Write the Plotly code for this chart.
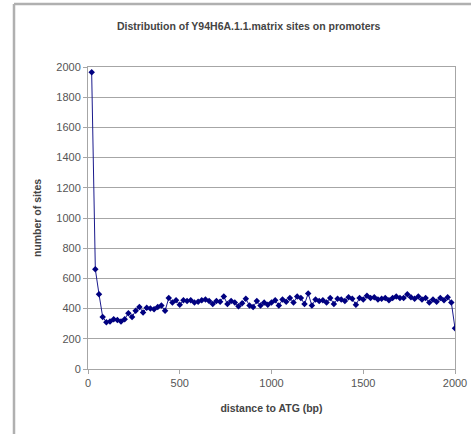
import plotly.graph_objects as go

distance_bp = list(range(20, 2001, 20))
site_counts = [
    1965, 660, 495, 345, 310, 315, 330, 325, 315, 330,
    370, 345, 385, 410, 375, 405, 400, 395, 410, 420,
    385, 470, 440, 455, 425, 455, 450, 455, 440, 445,
    455, 460, 450, 430, 450, 445, 480, 430, 450, 440,
    415, 435, 465, 420, 410, 450, 420, 440, 425, 440,
    455, 420, 460, 445, 470, 440, 480, 470, 430, 500,
    420, 460, 450, 455, 440, 470, 430, 465, 460, 450,
    475, 465, 425, 470, 460, 485, 470, 475, 460, 465,
    470, 455, 470, 480, 470, 470, 495, 475, 465, 480,
    460, 470, 440, 460, 445, 470, 455, 475, 440, 270,
]
x_ticks = [0, 500, 1000, 1500, 2000]
y_ticks = [0, 200, 400, 600, 800, 1000, 1200, 1400, 1600, 1800, 2000]

title_text = "Distribution of Y94H6A.1.1.matrix sites on promoters"
x_title = "distance to ATG (bp)"
y_title = "number of sites"

fig = go.Figure()
fig.add_trace(go.Scatter(
    x=distance_bp, y=site_counts, mode="lines+markers",
    line=dict(color="#1a1a8c", width=1),
    marker=dict(symbol="diamond", size=5, color="#000080"),
    showlegend=False,
))

grid = "#a6a6a6"
font = "Liberation Sans, Arial, sans-serif"
fig.update_layout(
    width=471, height=434,
    margin=dict(l=88, r=16, t=67, b=65, autoexpand=False),
    paper_bgcolor="white", plot_bgcolor="white",
    font=dict(family=font, color="#333333", size=10),
    title=dict(text="<b>" + title_text + "</b>", x=0.528, xanchor="center",
               y=1 - 26 / 434, yanchor="middle",
               font=dict(size=10.5, color="#444444", family=font)),
    xaxis=dict(range=[0, 2000], tickvals=x_ticks, showgrid=False,
               automargin=False,
               showline=True, linecolor=grid, linewidth=1, mirror=True,
               ticks="outside", ticklen=4, tickcolor=grid,
               tickfont=dict(size=11, color="#555555"),
               title=dict(text="<b>" + x_title + "</b>", standoff=16,
                          font=dict(size=10.5, color="#444444")),
               zeroline=False),
    yaxis=dict(range=[0, 2000], tickvals=y_ticks, showgrid=True,
               automargin=False,
               gridcolor=grid, gridwidth=1,
               showline=True, linecolor=grid, linewidth=1, mirror=True,
               ticks="outside", ticklen=4, tickcolor=grid,
               tickfont=dict(size=11, color="#555555"),
               title=dict(text="<b>" + y_title + "</b>", standoff=12,
                          font=dict(size=10.5, color="#444444")),
               zeroline=False),
)
# outer chart frame (left and top edges)
fx = (14 - 88) / 367
fy = (434 - 4 - 65) / 302
fig.add_shape(type="line", xref="paper", yref="paper",
              x0=fx, x1=fx, y0=-0.3, y1=fy,
              line=dict(color="#b0b0b0", width=2.5), layer="above")
fig.add_shape(type="line", xref="paper", yref="paper",
              x0=fx, x1=1.2, y0=fy, y1=fy,
              line=dict(color="#b0b0b0", width=2.5), layer="above")
fig.write_html("out.html")
